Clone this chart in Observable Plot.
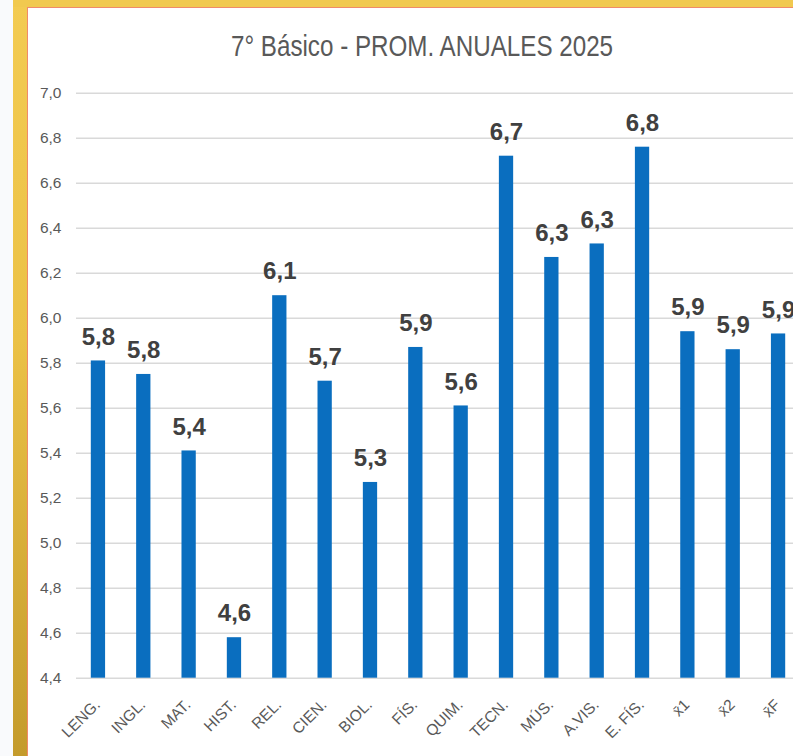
<!DOCTYPE html>
<html>
<head>
<meta charset="utf-8">
<script src="https://cdn.jsdelivr.net/npm/d3@7"></script>
<script src="https://cdn.jsdelivr.net/npm/@observablehq/plot@0.6"></script>
<style>
  body { margin: 0; width: 793px; height: 756px; overflow: hidden; background: #f9fafc; position: relative; }
  #gold-left { position: absolute; left: 13px; top: 0; width: 14px; height: 756px;
    background: linear-gradient(#f3cb52, #ebc146 45%, #c49b2c); }
  #gold-top { position: absolute; left: 13px; top: 0; width: 780px; height: 7px; background: #f1c94f; }
  #panel { position: absolute; left: 27px; top: 7px; width: 766px; height: 749px; background: #ffffff;
    border-left: 1.5px solid #f08a6a; border-top: 1.5px solid #f08a6a; }
  #title { position: absolute; left: 51px; width: 742px; top: 31px; text-align: center;
    font-family: "Liberation Sans", Arial, sans-serif;
    font-size: 29.5px; line-height: 30px; color: #595959; white-space: nowrap;
    transform: scaleX(0.82); transform-origin: 50% 50%; }
  #chart { position: absolute; left: 28px; top: 9px; }
</style>
</head>
<body>
<div id="gold-left"></div>
<div id="gold-top"></div>
<div id="panel"></div>
<div id="title">7° Básico - PROM. ANUALES 2025</div>
<div id="chart"></div>
<script>
const subjects = ["LENG.", "INGL.", "MAT.", "HIST.", "REL.", "CIEN.", "BIOL.", "FÍS.", "QUIM.", "TECN.", "MÚS.", "A.VIS.", "E. FÍS.", "x̄1", "x̄2", "x̄F"];
const values = [5.81, 5.75, 5.41, 4.58, 6.10, 5.72, 5.27, 5.87, 5.61, 6.72, 6.27, 6.33, 6.76, 5.94, 5.86, 5.93];
const valueLabels = ["5,8", "5,8", "5,4", "4,6", "6,1", "5,7", "5,3", "5,9", "5,6", "6,7", "6,3", "6,3", "6,8", "5,9", "5,9", "5,9"];
const yTicks = [4.4, 4.6, 4.8, 5.0, 5.2, 5.4, 5.6, 5.8, 6.0, 6.2, 6.4, 6.6, 6.8, 7.0];
const yMin = 4.4, yMax = 7.0;

const data = subjects.map((s, i) => ({ subject: s, value: values[i], label: valueLabels[i] }));

const chart = Plot.plot({
  width: 765,
  height: 747,
  marginTop: 83.7,
  marginBottom: 78.3,
  marginLeft: 48,
  marginRight: 0,
  style: { background: "transparent", fontFamily: "'Liberation Sans', Arial, sans-serif", overflow: "visible" },
  x: { domain: subjects, range: [56, 764], paddingInner: 0.685, paddingOuter: 0.15, round: false, label: null },
  y: { domain: [yMin, yMax], label: null },
  marks: [
    Plot.ruleY(yTicks, { stroke: "#d9d9d9", strokeWidth: 1.5 }),
    Plot.barY(data, { x: "subject", y1: yMin, y2: "value", fill: "#0a6ebf" }),
    Plot.text(data, { x: "subject", y: "value", text: "label", dy: -24, fontSize: 24, fontWeight: "bold",
      fill: "#404040", fontFamily: "'Liberation Sans', Arial, sans-serif" }),
    Plot.axisY({ ticks: yTicks, tickFormat: d => d.toFixed(1).replace(".", ","), tickSize: 0, tickPadding: 15,
      fontSize: 15.5, fill: "#595959", label: null }),
    Plot.axisX({ tickRotate: -45, tickSize: 0, tickPadding: 24, dx: -1, fontSize: 15.5, fill: "#595959", label: null })
  ]
});
document.getElementById("chart").appendChild(chart);
</script>
</body>
</html>
